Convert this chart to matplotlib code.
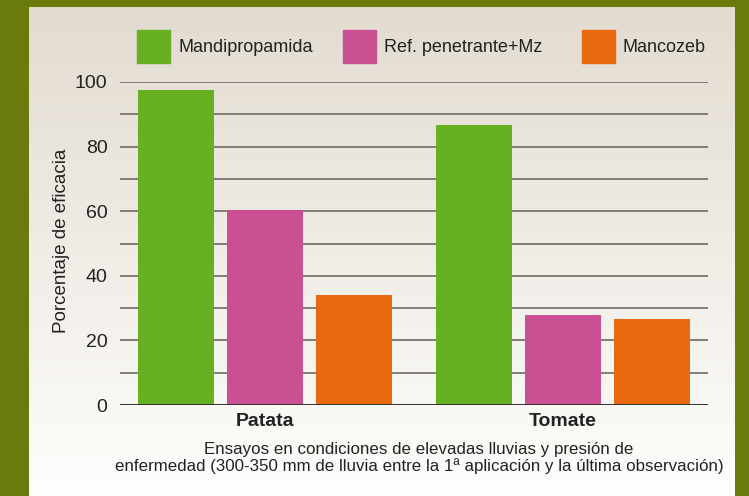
import numpy as np
import matplotlib
matplotlib.use('Agg')
import matplotlib.pyplot as plt
from matplotlib.patches import Rectangle

plt.rcParams['font.family'] = ['Liberation Sans', 'DejaVu Sans']

# Data
crops = ['Patata', 'Tomate']
series = ['Mandipropamida', 'Ref. penetrante+Mz', 'Mancozeb']
mandipropamida = [97.5, 86.7]
ref_penetrante = [60.4, 27.9]
mancozeb = [34.0, 26.6]
colors = ['#66b022', '#c85093', '#e96a0e']
yticks = [0, 20, 40, 60, 80, 100]

fig = plt.figure(figsize=(7.49, 4.96), dpi=100, facecolor='#6b7a0c')

# Gradient panel (darker beige on top, fading to white)
bg = fig.add_axes([29 / 749, 0, (735 - 29) / 749, 1 - 7 / 496])
bg.set_axis_off()
top = np.array([0.886, 0.859, 0.816])
bot = np.array([0.998, 0.996, 0.99])
t = np.linspace(0, 1, 256)[:, None]
grad = top * (1 - t) + bot * t
bg.imshow(grad[:, None, :], aspect='auto', origin='upper', interpolation='bilinear')

ax = fig.add_axes([120 / 749, 1 - 405 / 496, 588 / 749, (405 - 82) / 496])
ax.patch.set_alpha(0)

x = np.arange(len(crops))
width = 0.255
step = 0.30
for i, (vals, c, lab) in enumerate(zip([mandipropamida, ref_penetrante, mancozeb], colors, series)):
    ax.bar(x + (i - 1) * step, vals, width, color=c, label=lab, zorder=3)

ax.set_ylim(0, 100)
ax.set_xlim(-0.487, 1.487)
for v in range(10, 101, 10):
    ax.axhline(v, color='#6e6a66', lw=1.2, zorder=1)
ax.axhline(0, color='#333333', lw=1.4, zorder=4)

for s in ax.spines.values():
    s.set_visible(False)
ax.set_yticks(yticks)
ax.set_yticklabels([str(v) for v in yticks], fontsize=14, color='#222222')
ax.tick_params(axis='y', length=0, pad=9)
ax.set_xticks(x)
ax.set_xticklabels(crops, fontsize=14, fontweight='bold', color='#222222')
ax.tick_params(axis='x', length=0, pad=6)

fig.text(61 / 749, 1 - 241 / 496, 'Porcentaje de eficacia', rotation=90,
         ha='center', va='center', fontsize=13.5, color='#222222')

fig.text(419 / 749, 1 - 458 / 496,
         'Ensayos en condiciones de elevadas lluvias y presión de\n'
         'enfermedad (300-350 mm de lluvia entre la 1ª aplicación y la última observación)',
         ha='center', va='center', fontsize=12.2, color='#222222', linespacing=1.15)

# Legend
leg_x = [137, 343, 582]
for lx, c, lab in zip(leg_x, colors, series):
    fig.patches.append(Rectangle((lx / 749, 1 - 63 / 496), 33 / 749, 33 / 496,
                                 transform=fig.transFigure, color=c))
    fig.text((lx + 41) / 749, 1 - 47 / 496, lab, ha='left', va='center',
             fontsize=13, color='#222222')

fig.savefig('out.png', dpi=100, facecolor=fig.get_facecolor())
